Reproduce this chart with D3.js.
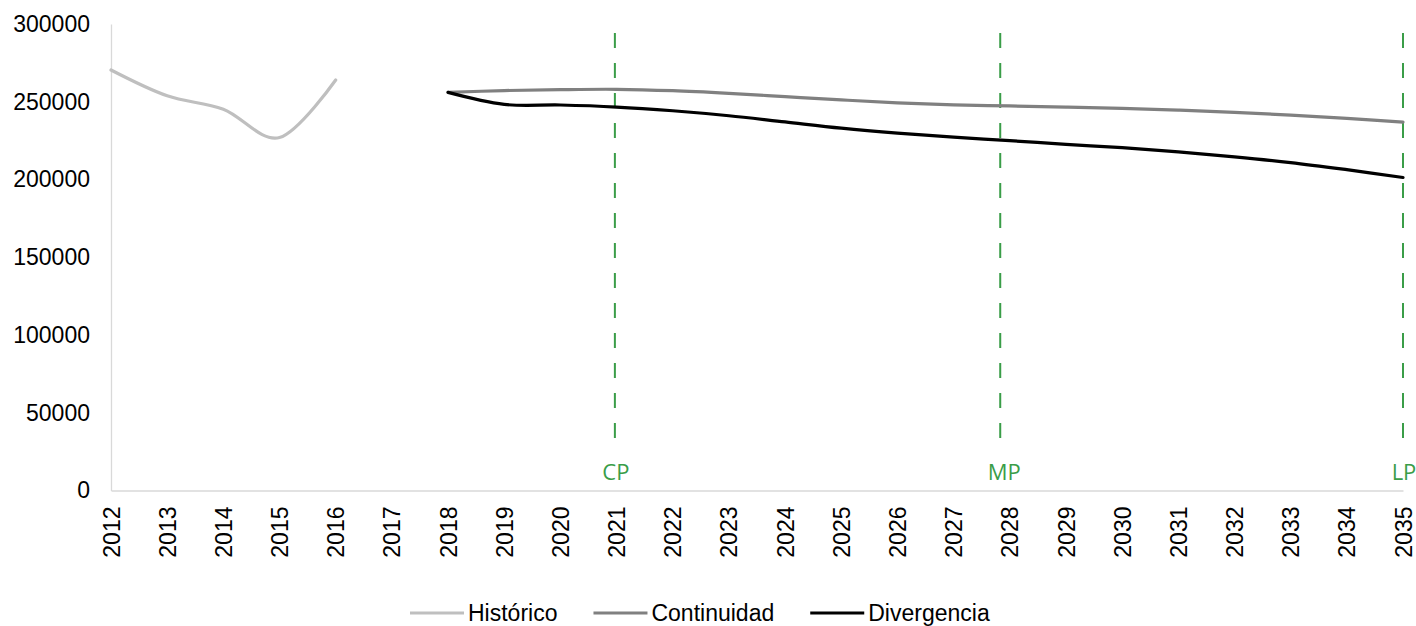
<!DOCTYPE html>
<html>
<head>
<meta charset="utf-8">
<script src="https://cdn.jsdelivr.net/npm/d3@7"></script>
<style>
  html, body { margin: 0; padding: 0; background: #ffffff; }
  svg { display: block; }
</style>
</head>
<body>
<svg id="chart" width="1416" height="626"></svg>
<script>
// Years on the category axis
const years = d3.range(2012, 2036);

// Historical series (2012–2016)
const historicoYears = [2012, 2013, 2014, 2015, 2016];
const historicoValues = [270400, 253800, 245200, 227000, 264000];

// Projection scenarios (2018–2035)
const projYears = d3.range(2018, 2036);
const continuidadValues = [256000, 257200, 257800, 258000, 257100, 255400, 253300, 251200, 249300,
  248000, 247300, 246600, 245800, 244600, 243200, 241400, 239300, 236900];
const divergenciaValues = [256000, 248300, 247900, 246600, 244200, 241000, 237000, 233000, 229800,
  227200, 225000, 222600, 220500, 217800, 214600, 210900, 206300, 201300];

// Horizon markers (short, medium, long term)
const horizonLabels = ["CP", "MP", "LP"];
const horizonYears = [2020.97, 2027.83, 2035];

// Y axis ticks
const yTicks = [0, 50000, 100000, 150000, 200000, 250000, 300000];

const seriesNames = ["Histórico", "Continuidad", "Divergencia"];
const seriesColors = ["#bfbfbf", "#808080", "#000000"];

const svg = d3.select("#chart");
const FONT = "'Liberation Sans', Arial, sans-serif";

const x = d3.scalePoint().domain(years).range([111, 1403]);
const xLin = d3.scaleLinear().domain([2012, 2035]).range([111, 1403]);
const y = d3.scaleLinear().domain([0, 300000]).range([490.5, 24]);

// Y axis
const yAxis = svg.append("g")
  .attr("transform", `translate(${x(2012)},0)`)
  .call(d3.axisLeft(y).tickValues(yTicks).tickSize(0).tickPadding(21).tickFormat(d3.format("d")));
yAxis.select(".domain").attr("stroke", "#d9d9d9").attr("stroke-width", 1.3);
yAxis.selectAll("text").attr("font-family", FONT).attr("font-size", 23).attr("fill", "#000");

// X axis
const xAxis = svg.append("g")
  .attr("transform", `translate(0,${y(0)})`)
  .call(d3.axisBottom(x).tickSize(0).tickPadding(0));
xAxis.select(".domain").attr("stroke", "#d9d9d9").attr("stroke-width", 1.3);
xAxis.selectAll("text")
  .attr("font-family", FONT).attr("font-size", 23).attr("fill", "#000")
  .attr("transform", "rotate(-90)")
  .attr("text-anchor", "end")
  .attr("x", -16)
  .attr("y", 0)
  .attr("dy", "0.35em");

// Horizon markers
const green = "#3a9d48";
const horizons = svg.append("g");
horizons.selectAll("line")
  .data(horizonYears)
  .join("line")
  .attr("x1", d => xLin(d)).attr("x2", d => xLin(d))
  .attr("y1", y(300000)).attr("y2", 446)
  .attr("stroke", green).attr("stroke-width", 2)
  .attr("stroke-dasharray", "0 9 15 6");
horizons.selectAll("text")
  .data(horizonYears)
  .join("text")
  .attr("x", (d, i) => xLin(d) + (i === 1 ? 4 : 1))
  .attr("y", 480)
  .attr("text-anchor", "middle")
  .attr("font-family", "'Open Sans', 'Noto Sans', sans-serif")
  .attr("font-size", 22)
  .attr("fill", green)
  .text((d, i) => horizonLabels[i]);

// Series lines
const line = d3.line().x(d => x(d[0])).y(d => y(d[1])).curve(d3.curveCardinal.tension(0));
const series = [
  d3.zip(historicoYears, historicoValues),
  d3.zip(projYears, continuidadValues),
  d3.zip(projYears, divergenciaValues)
];
svg.append("g").selectAll("path")
  .data(series)
  .join("path")
  .attr("d", line)
  .attr("fill", "none")
  .attr("stroke", (d, i) => seriesColors[i])
  .attr("stroke-width", 3.2)
  .attr("stroke-linecap", "round")
  .attr("stroke-linejoin", "round");

// Legend
const legend = svg.append("g");
let lx = 410;
const ly = 613;
seriesNames.forEach((name, i) => {
  legend.append("line")
    .attr("x1", lx).attr("x2", lx + 54)
    .attr("y1", ly).attr("y2", ly)
    .attr("stroke", seriesColors[i]).attr("stroke-width", 3.2);
  const t = legend.append("text")
    .attr("x", lx + 58).attr("y", ly)
    .attr("dy", "0.35em")
    .attr("font-family", FONT).attr("font-size", 23).attr("fill", "#000")
    .text(name);
  lx = lx + 58 + t.node().getComputedTextLength() + 36;
});
</script>
</body>
</html>
